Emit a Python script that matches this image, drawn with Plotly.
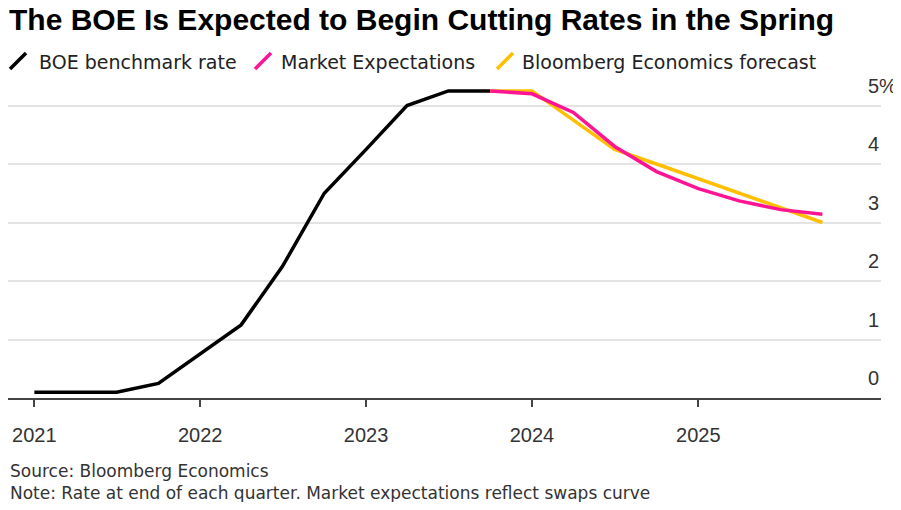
import plotly.graph_objects as go

# ---------------- data ----------------
boe_dates = ["2021-01-01", "2021-04-01", "2021-07-01", "2021-10-01",
             "2022-01-01", "2022-04-01", "2022-07-01", "2022-10-01",
             "2023-01-01", "2023-04-01", "2023-07-01", "2023-10-01"]
boe_rate = [0.1, 0.1, 0.1, 0.25, 0.75, 1.25, 2.25, 3.5, 4.25, 5.0, 5.25, 5.25]

fcst_dates = ["2023-10-01", "2024-01-01", "2024-04-01", "2024-07-01", "2024-10-01",
              "2025-01-01", "2025-04-01", "2025-07-01", "2025-10-01"]
market_exp = [5.25, 5.2, 4.88, 4.3, 3.87, 3.58, 3.37, 3.22, 3.14]
bbg_fcst = [5.25, 5.25, 4.75, 4.25, 4.0, 3.75, 3.5, 3.25, 3.0]

x_tickvals = ["2021-01-01", "2022-01-01", "2023-01-01", "2024-01-01", "2025-01-01"]
x_ticktext = ["2021", "2022", "2023", "2024", "2025"]
y_tickvals = [0, 1, 2, 3, 4, 5]
y_ticktext = ["0", "1", "2", "3", "4", "5%"]

series_names = ["BOE benchmark rate", "Market Expectations", "Bloomberg Economics forecast"]
series_colors = ["#000000", "#ff1493", "#ffbf00"]

# ---------------- layout helpers ----------------
# the page body has an 8px margin, so figure coords = screen coords - 8;
# keep the figure small enough that the page never scrolls
OFF = 8
W, H = 901 - OFF, 510 - 2 * OFF
PLOT_L, PLOT_R, PLOT_T, PLOT_B = 8, 881, 80, 398   # screen pixels
L, R, T, B = PLOT_L - OFF, W - (PLOT_R - OFF), PLOT_T - OFF, H - (PLOT_B - OFF)
PW, PH = W - L - R, H - T - B


def px(x):
    return (x - OFF - L) / PW


def py(y):
    return (H - B - (y - OFF)) / PH


FONT = "Liberation Sans, Arial, sans-serif"
FONT2 = "DejaVu Sans, sans-serif"

fig = go.Figure()
fig.add_trace(go.Scatter(x=boe_dates, y=boe_rate, mode="lines",
                         line=dict(color=series_colors[0], width=3.5),
                         name=series_names[0], showlegend=False))
fig.add_trace(go.Scatter(x=fcst_dates, y=bbg_fcst, mode="lines",
                         line=dict(color=series_colors[2], width=3.5),
                         name=series_names[2], showlegend=False))
fig.add_trace(go.Scatter(x=fcst_dates, y=market_exp, mode="lines",
                         line=dict(color=series_colors[1], width=3.5),
                         name=series_names[1], showlegend=False))

# custom legend (slash icons + text)
legend_slash_x = [10, 255, 497]
legend_text_x = [37, 279, 520]
for name, col, sx, tx in zip(series_names, series_colors, legend_slash_x, legend_text_x):
    fig.add_shape(type="line", xref="paper", yref="paper",
                  x0=px(sx), y0=py(69), x1=px(sx + 16), y1=py(53),
                  line=dict(color=col, width=3.5))
    fig.add_annotation(text=name, xref="paper", yref="paper",
                       x=px(tx), y=py(62), xanchor="left", yanchor="middle",
                       showarrow=False, font=dict(family=FONT2, size=19, color="#222"))

# footer
fig.add_annotation(text="Source: Bloomberg Economics", xref="paper", yref="paper",
                   x=px(8), y=py(471), xanchor="left", yanchor="middle", showarrow=False,
                   font=dict(family=FONT2, size=17, color="#333"))
fig.add_annotation(text="Note: Rate at end of each quarter. Market expectations reflect swaps curve",
                   xref="paper", yref="paper",
                   x=px(8), y=py(493), xanchor="left", yanchor="middle", showarrow=False,
                   font=dict(family=FONT2, size=17, color="#333"))

fig.update_layout(
    width=W, height=H,
    margin=dict(l=L, r=R, t=T, b=B),
    paper_bgcolor="white", plot_bgcolor="white",
    title=dict(text="<b>The BOE Is Expected to Begin Cutting Rates in the Spring</b>",
               x=1 / W, xanchor="left", xref="container",
               y=1 - 1 / H, yanchor="top", yref="container",
               pad=dict(l=0, r=0, t=0, b=0),
               font=dict(family=FONT, size=30, color="#000")),
    xaxis=dict(type="date", range=["2020-11-04", "2026-02-07"],
               tickvals=x_tickvals, ticktext=x_ticktext,
               showgrid=False, zeroline=False,
               showline=True, linecolor="#444", linewidth=2,
               ticks="outside", ticklen=7, tickwidth=1.5, tickcolor="#444",
               ticklabelstandoff=11,
               tickfont=dict(family=FONT, size=20, color="#333")),
    yaxis=dict(range=[0, PH / 58.5], side="right",
               tickvals=y_tickvals, ticktext=y_ticktext,
               showgrid=True, gridcolor="#e3e3e3", gridwidth=1.5,
               zeroline=False, showline=False, ticks="",
               ticklabelposition="outside", ticklabelstandoff=-14, ticklabelshift=-20,
               tickfont=dict(family=FONT, size=20, color="#333")),
)

fig.write_html("out.html")
